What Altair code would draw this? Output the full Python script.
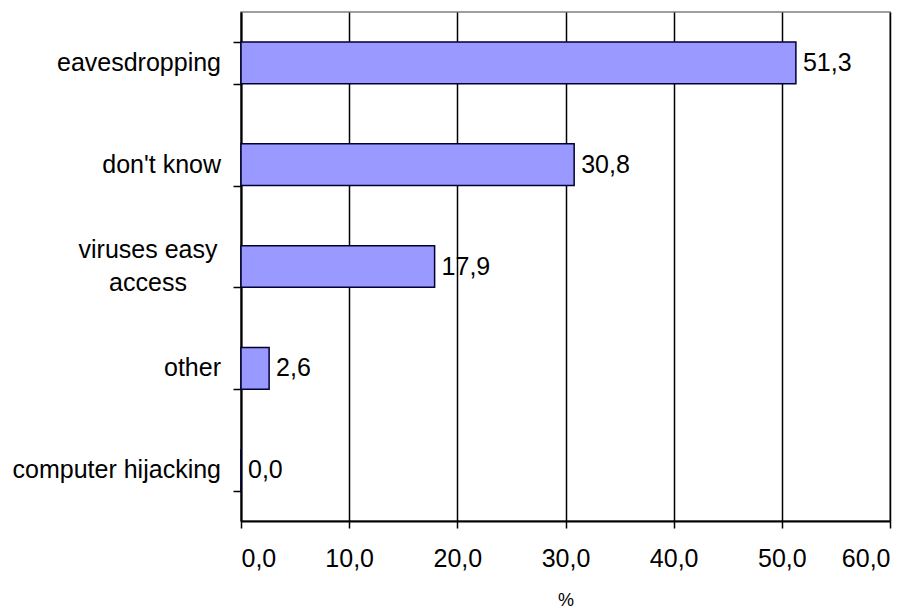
import altair as alt
import pandas as pd

# Survey answers and their share of respondents (%)
categories = ["eavesdropping", "don't know", "viruses easy access", "other", "computer hijacking"]
values = [51.3, 30.8, 17.9, 2.6, 0.0]
x_ticks = [0, 10, 20, 30, 40, 50, 60]

df = pd.DataFrame({"category": categories, "value": values})
df["value_label"] = [f"{v:.1f}".replace(".", ",") for v in values]

FONT = "Liberation Sans"

y_enc = alt.Y(
    "category:N",
    sort=categories,
    scale=alt.Scale(paddingInner=0.59, paddingOuter=0.295),
    axis=alt.Axis(
        title=None,
        labels=False,
        tickBand="extent",
        tickSize=8,
        tickColor="black",
        tickWidth=1.5,
        domainColor="black",
        domainWidth=2,
        grid=False,
    ),
)

x_enc = alt.X(
    "value:Q",
    scale=alt.Scale(domain=[0, 60], nice=False, zero=True),
    axis=alt.Axis(
        title="%",
        values=x_ticks,
        labelExpr="replace(format(datum.value, '.1f'), '.', ',')",
        labelFont=FONT,
        labelFontSize=25,
        labelColor="black",
        labelPadding=18,
        tickSize=7,
        tickColor="black",
        tickWidth=1.5,
        domainColor="black",
        domainWidth=2,
        grid=True,
        gridColor="black",
        gridWidth=1.5,
        titleFont=FONT,
        titleFontSize=18,
        titleFontWeight="normal",
        titleColor="black",
        titlePadding=20,
    ),
)

bars = alt.Chart(df).mark_bar(
    fill="#9999FF", stroke="#000033", strokeWidth=1.5
).encode(x=x_enc, y=y_enc)

value_text = alt.Chart(df).mark_text(
    align="left", baseline="middle", dx=7, font=FONT, fontSize=25, color="black"
).encode(
    x=alt.X("value:Q"),
    y=alt.Y("category:N", sort=categories),
    text="value_label:N",
)

# Category labels drawn beside the axis; the two-word answer wraps onto two centred lines
single_labels = alt.Chart(df).transform_filter(
    "datum.category != 'viruses easy access'"
).mark_text(
    align="right", baseline="middle", font=FONT, fontSize=25, color="black"
).encode(
    x=alt.value(-20),
    y=alt.Y("category:N", sort=categories),
    text="category:N",
)

wrapped_labels = alt.Chart(df).transform_filter(
    "datum.category == 'viruses easy access'"
).transform_calculate(
    lbl="replace(datum.category, 'easy ', 'easy\\n')"
).mark_text(
    align="center", baseline="middle", font=FONT, fontSize=25, color="black",
    lineBreak="\n", lineHeight=33, dy=-16.5,
).encode(
    x=alt.value(-93),
    y=alt.Y("category:N", sort=categories),
    text="lbl:N",
)

chart = alt.layer(bars, value_text, single_labels, wrapped_labels).properties(
    width=649,
    height=509,
    autosize=alt.AutoSizeParams(type="none"),
    padding={"left": 241, "top": 12, "right": 27, "bottom": 87},
    background="white",
).configure_view(
    stroke="#808080", strokeWidth=1.5
)

chart.save("out.html", embed_options={"renderer": "svg", "actions": False})
